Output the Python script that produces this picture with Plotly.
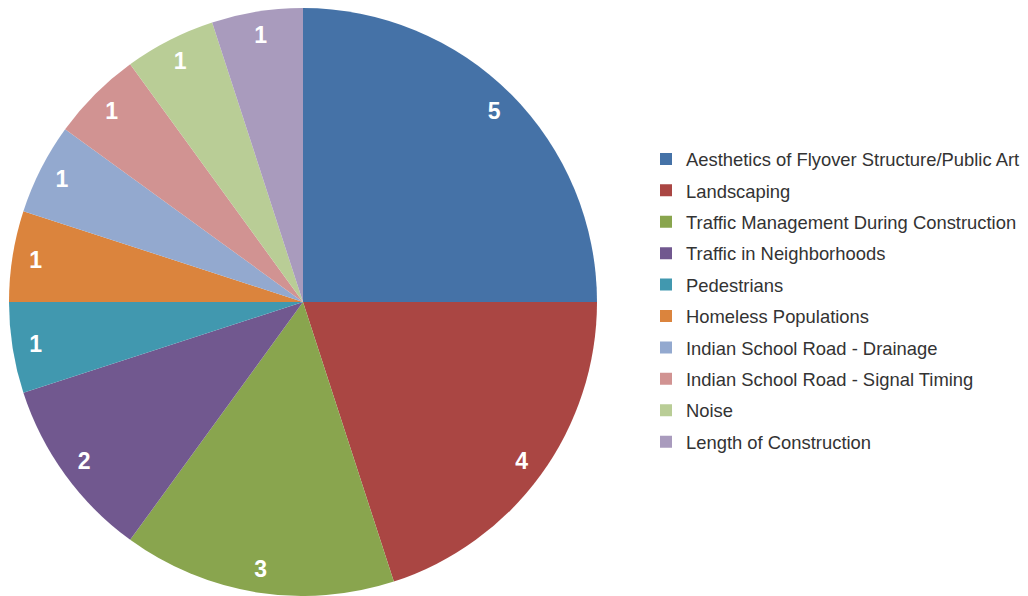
import plotly.graph_objects as go

labels = [
    "Aesthetics of Flyover Structure/Public Art",
    "Landscaping",
    "Traffic Management During Construction",
    "Traffic in Neighborhoods",
    "Pedestrians",
    "Homeless Populations",
    "Indian School Road - Drainage",
    "Indian School Road - Signal Timing",
    "Noise",
    "Length of Construction",
]
counts = [5, 4, 3, 2, 1, 1, 1, 1, 1, 1]
colors = [
    "#4572A7", "#AA4643", "#89A54E", "#71588F", "#4198AF",
    "#DB843D", "#93A9CF", "#D19392", "#B9CD96", "#A99BBD",
]

# page body has an 8px margin, so the figure is a bit smaller than the window
W, H = 1020, 588
pie_domain = dict(x=[0, 590 / W], y=[0, 1])

fig = go.Figure()

# full pie, coloured slices
fig.add_trace(
    go.Pie(
        labels=labels,
        values=counts,
        sort=False,
        direction="clockwise",
        rotation=0,
        marker=dict(colors=colors, line=dict(width=0)),
        textinfo="none",
        hoverinfo="label+value",
        domain=pie_domain,
        showlegend=False,
    )
)

# transparent ring on top, only used to put the value labels near the rim
fig.add_trace(
    go.Pie(
        labels=labels,
        values=counts,
        sort=False,
        direction="clockwise",
        rotation=0,
        hole=0.84,
        marker=dict(colors=["rgba(0,0,0,0)"] * len(counts), line=dict(width=0)),
        textinfo="value",
        textposition="inside",
        insidetextorientation="horizontal",
        textfont=dict(family="Liberation Sans, Arial", size=23, color="white", weight="bold"),
        hoverinfo="skip",
        domain=pie_domain,
        showlegend=False,
    )
)

# legend entries (one group each so the rows can be spread out a little)
for i, (lab, col) in enumerate(zip(labels, colors)):
    fig.add_trace(
        go.Scatter(
            x=[None],
            y=[None],
            mode="markers",
            name=lab,
            legendgroup=f"g{i}",
            marker=dict(symbol="square", size=10, color=col),
            showlegend=True,
            hoverinfo="skip",
        )
    )

fig.update_layout(
    width=W,
    height=H,
    margin=dict(l=0, r=0, t=0, b=0),
    paper_bgcolor="white",
    plot_bgcolor="white",
    xaxis=dict(visible=False),
    yaxis=dict(visible=False),
    showlegend=True,
    legend=dict(
        x=638 / W,
        y=0.5026,
        xanchor="left",
        yanchor="middle",
        font=dict(family="Liberation Sans, Arial", size=18.4, color="#333333"),
        itemsizing="constant",
        tracegroupgap=4.5,
        bgcolor="rgba(0,0,0,0)",
    ),
)

fig.write_html("out.html")
